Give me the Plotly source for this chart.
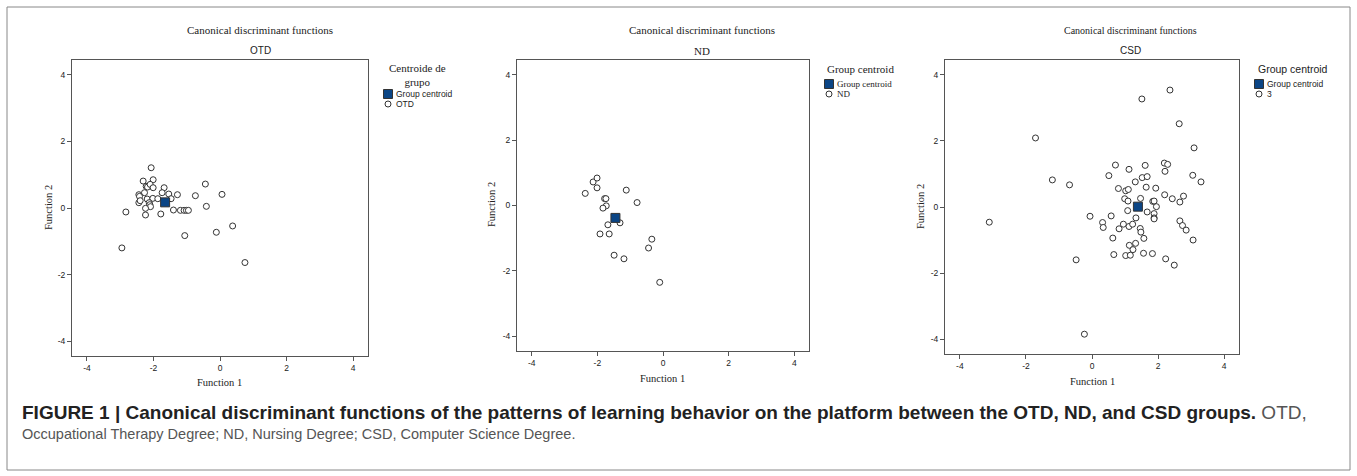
import plotly.graph_objects as go

W, H = 1357, 476

# ---------------- data ----------------
otd_f1 = [-2.07, -2.31, -2.01, -2.22, -2.18, -2.10, -2.01, -2.27, -2.44, -2.42, -2.44, -2.40,
          -2.19, -2.02, -1.87, -2.13, -2.11, -2.09, -2.24, -2.24, -2.83, -2.95, -1.78, -1.68,
          -1.74, -1.54, -1.47, -1.28, -1.40, -1.19, -1.08, -1.01, -0.95, -0.74, -0.44, -0.41,
          0.06, -1.06, -0.11, 0.38, 0.75]
otd_f2 = [1.21, 0.81, 0.85, 0.65, 0.63, 0.71, 0.61, 0.46, 0.40, 0.35, 0.16, 0.22,
          0.27, 0.29, 0.28, 0.16, 0.10, 0.04, -0.01, -0.21, -0.12, -1.20, -0.18, 0.61,
          0.46, 0.42, 0.28, 0.40, -0.06, -0.07, -0.07, -0.07, -0.07, 0.37, 0.72, 0.05,
          0.41, -0.83, -0.73, -0.54, -1.64]
otd_centroid = (-1.65, 0.17)

nd_f1 = [-2.37, -2.13, -2.01, -2.01, -1.78, -1.74, -1.73, -1.83, -1.12, -0.79, -1.68, -1.31,
         -1.92, -1.64, -0.34, -0.44, -1.49, -1.19, -0.10]
nd_f2 = [0.37, 0.72, 0.84, 0.54, 0.21, 0.21, -0.01, -0.08, 0.47, 0.09, -0.59, -0.53,
         -0.87, -0.87, -1.03, -1.30, -1.52, -1.63, -2.35]
nd_centroid = (-1.45, -0.38)

csd_f1 = [2.36, 1.51, 2.64, -1.71, 3.09, 0.71, 1.61, 2.19, 2.29, 1.12, 2.21, 0.51, 3.05, 3.30,
          1.52, 1.67, 1.31, -1.20, -0.68, 0.80, 1.02, 1.10, 1.64, 1.93, 0.99, 1.09, 1.47,
          1.84, 1.88, 2.20, 2.43, 2.66, 2.77, 1.95, 1.08, 1.67, 1.88, 1.88, 1.88, 1.33,
          -0.06, 0.58, 0.32, 0.34, 0.95, 0.82, 1.12, 1.23, 1.46, 1.48, 0.63, 1.57, 2.66,
          2.74, 2.85, 3.06, 1.13, 1.24, 1.32, 0.66, 1.02, 1.16, 1.56, 1.83, 2.23, 2.49,
          -0.48, -3.11, -0.23]
csd_f2 = [3.54, 3.27, 2.52, 2.09, 1.79, 1.27, 1.26, 1.33, 1.29, 1.14, 1.08, 0.95, 0.96, 0.76,
          0.89, 0.92, 0.76, 0.82, 0.67, 0.56, 0.49, 0.53, 0.60, 0.57, 0.25, 0.18, 0.26,
          0.17, 0.18, 0.37, 0.25, 0.15, 0.33, 0.01, -0.11, -0.15, -0.20, -0.33, -0.36, -0.33,
          -0.28, -0.27, -0.47, -0.62, -0.52, -0.66, -0.59, -0.52, -0.65, -0.76, -0.94, -0.95, -0.42,
          -0.56, -0.70, -1.00, -1.16, -1.29, -1.10, -1.44, -1.47, -1.46, -1.40, -1.41, -1.57, -1.76,
          -1.60, -0.46, -3.85]
csd_centroid = (1.39, 0.01)

tick_vals = [-4, -2, 0, 2, 4]
tick_text = ["-4", "-2", "0", "2", "4"]
axis_range = [-4.45, 4.45]

panel_titles = ["OTD", "ND", "CSD"]
main_title = "Canonical discriminant functions"
legend_titles = ["Centroide de<br>grupo", "Group centroid", "Group centroid"]
legend_labels = ["OTD", "ND", "3"]
centroid_label = "Group centroid"
x_title, y_title = "Function 1", "Function 2"
caption_bold = "FIGURE 1 | Canonical discriminant functions of the patterns of learning behavior on the platform between the OTD, ND, and CSD groups."
caption_rest1 = " OTD,"
caption_line2 = "Occupational Therapy Degree; ND, Nursing Degree; CSD, Computer Science Degree."

# ---------------- layout helpers ----------------
def px(x):
    return x / W

def py(y):
    return 1 - y / H

SERIF = "Liberation Serif, Times New Roman, serif"
SANS = "Liberation Sans, Arial, sans-serif"
BLUE = "#0b4585"
EDGE = "#333333"
FRAME = "#555555"

panels = [
    dict(x0=72, x1=368, y0=60, y1=356, f1=otd_f1, f2=otd_f2, c=otd_centroid,
         tx=260, title_size=11, sub_font=SANS, sub_size=10, xt=(220, 382), yt=(48, 208),
         tick_font=SANS),
    dict(x0=517, x1=809, y0=60, y1=351, f1=nd_f1, f2=nd_f2, c=nd_centroid,
         tx=702, title_size=11, sub_font=SERIF, sub_size=11, xt=(662, 378), yt=(491, 205),
         tick_font=SANS),
    dict(x0=945, x1=1239, y0=60, y1=354, f1=csd_f1, f2=csd_f2, c=csd_centroid,
         tx=1130, title_size=10, sub_font=SANS, sub_size=10, xt=(1092, 381), yt=(920, 207),
         tick_font=SANS),
]

fig = go.Figure()
annotations = []
shapes = []

for i, p in enumerate(panels, start=1):
    xa = "x" if i == 1 else f"x{i}"
    ya = "y" if i == 1 else f"y{i}"
    fig.add_trace(go.Scatter(
        x=p["f1"], y=p["f2"], mode="markers", xaxis=xa, yaxis=ya,
        marker=dict(symbol="circle", size=6, color="white",
                    line=dict(color=EDGE, width=1)),
        name=legend_labels[i - 1], showlegend=False, cliponaxis=False))
    fig.add_trace(go.Scatter(
        x=[p["c"][0]], y=[p["c"][1]], mode="markers", xaxis=xa, yaxis=ya,
        marker=dict(symbol="square", size=9, color=BLUE,
                    line=dict(color=EDGE, width=1)),
        name=centroid_label, showlegend=False))

    axis_common = dict(range=axis_range, tickvals=tick_vals, ticktext=tick_text,
                       showgrid=False, zeroline=False, showline=True, mirror=True,
                       linecolor=FRAME, linewidth=1, ticks="outside", ticklen=4,
                       tickcolor=FRAME, tickfont=dict(family=p["tick_font"], size=8.5, color="#222"),
                       fixedrange=True)
    xkey = "xaxis" if i == 1 else f"xaxis{i}"
    ykey = "yaxis" if i == 1 else f"yaxis{i}"
    fig.update_layout(**{
        xkey: dict(domain=[px(p["x0"]), px(p["x1"])], anchor=ya, **axis_common),
        ykey: dict(domain=[py(p["y1"]), py(p["y0"])], anchor=xa, **axis_common),
    })

    # titles
    annotations.append(dict(text=main_title, x=px(p["tx"]), y=py(30), xref="paper", yref="paper",
                            showarrow=False, xanchor="center", yanchor="middle",
                            font=dict(family=SERIF, size=p["title_size"], color="#222")))
    annotations.append(dict(text=panel_titles[i - 1], x=px(p["tx"]), y=py(51), xref="paper", yref="paper",
                            showarrow=False, xanchor="center", yanchor="middle",
                            font=dict(family=p["sub_font"], size=p["sub_size"], color="#222")))
    # axis titles
    annotations.append(dict(text=x_title, x=px(p["xt"][0]), y=py(p["xt"][1]), xref="paper", yref="paper",
                            showarrow=False, xanchor="center", yanchor="middle",
                            font=dict(family=SERIF, size=10.5, color="#222")))
    annotations.append(dict(text=y_title, x=px(p["yt"][0]), y=py(p["yt"][1]), xref="paper", yref="paper",
                            showarrow=False, xanchor="center", yanchor="middle", textangle=-90,
                            font=dict(family=SERIF, size=10.5, color="#222")))

# ---------------- legends (drawn as text + symbols) ----------------
legends = [
    dict(title_x=417, title_anchor="center", title_y=75, title_font=SERIF, title_size=11,
         sx=388, sy=94, item_font=SANS, item_size=8.5),
    dict(title_x=825, title_anchor="left", title_y=69, title_font=SERIF, title_size=11,
         sx=829, sy=84, item_font=SERIF, item_size=9),
    dict(title_x=1256, title_anchor="left", title_y=69, title_font=SANS, title_size=10.5,
         sx=1259, sy=84, item_font=SANS, item_size=8.5),
]
for i, L in enumerate(legends):
    annotations.append(dict(text=legend_titles[i], x=px(L["title_x"]), y=py(L["title_y"]),
                            xref="paper", yref="paper", showarrow=False,
                            xanchor=L["title_anchor"], yanchor="middle", align="center",
                            font=dict(family=L["title_font"], size=L["title_size"], color="#222")))
    sx, sy = L["sx"], L["sy"]
    shapes.append(dict(type="rect", xref="paper", yref="paper",
                       x0=px(sx - 4.5), x1=px(sx + 4.5), y0=py(sy + 4.5), y1=py(sy - 4.5),
                       fillcolor=BLUE, line=dict(color=EDGE, width=1)))
    shapes.append(dict(type="circle", xref="paper", yref="paper",
                       x0=px(sx - 3), x1=px(sx + 3), y0=py(sy + 10 + 3), y1=py(sy + 10 - 3),
                       fillcolor="white", line=dict(color=EDGE, width=1)))
    annotations.append(dict(text=centroid_label, x=px(sx + 6), y=py(sy), xref="paper", yref="paper",
                            showarrow=False, xanchor="left", yanchor="middle",
                            font=dict(family=L["item_font"], size=L["item_size"], color="#222")))
    annotations.append(dict(text=legend_labels[i], x=px(sx + 6), y=py(sy + 10), xref="paper", yref="paper",
                            showarrow=False, xanchor="left", yanchor="middle",
                            font=dict(family=L["item_font"], size=L["item_size"], color="#222")))

# ---------------- caption ----------------
CAP = "Liberation Sans, Arial, sans-serif"
annotations.append(dict(
    text=f"<b>{caption_bold}</b><span style='color:#555'>{caption_rest1}</span>",
    x=px(20), y=py(412), xref="paper", yref="paper", showarrow=False,
    xanchor="left", yanchor="middle", font=dict(family=CAP, size=19, color="#222")))
annotations.append(dict(
    text=caption_line2, x=px(20), y=py(434), xref="paper", yref="paper", showarrow=False,
    xanchor="left", yanchor="middle", font=dict(family=CAP, size=14.5, color="#555")))

# outer frame
shapes.append(dict(type="rect", xref="paper", yref="paper", x0=px(7), x1=px(1350),
                   y0=py(470), y1=py(7), line=dict(color="#888", width=1), fillcolor="rgba(0,0,0,0)",
                   layer="below"))

fig.update_layout(width=W, height=H, margin=dict(l=0, r=0, t=0, b=0),
                  paper_bgcolor="white", plot_bgcolor="white", showlegend=False,
                  annotations=annotations, shapes=shapes)

fig.write_html("out.html", config={"displayModeBar": False},
               post_script="document.body.style.margin='0';document.body.style.overflow='hidden';")
